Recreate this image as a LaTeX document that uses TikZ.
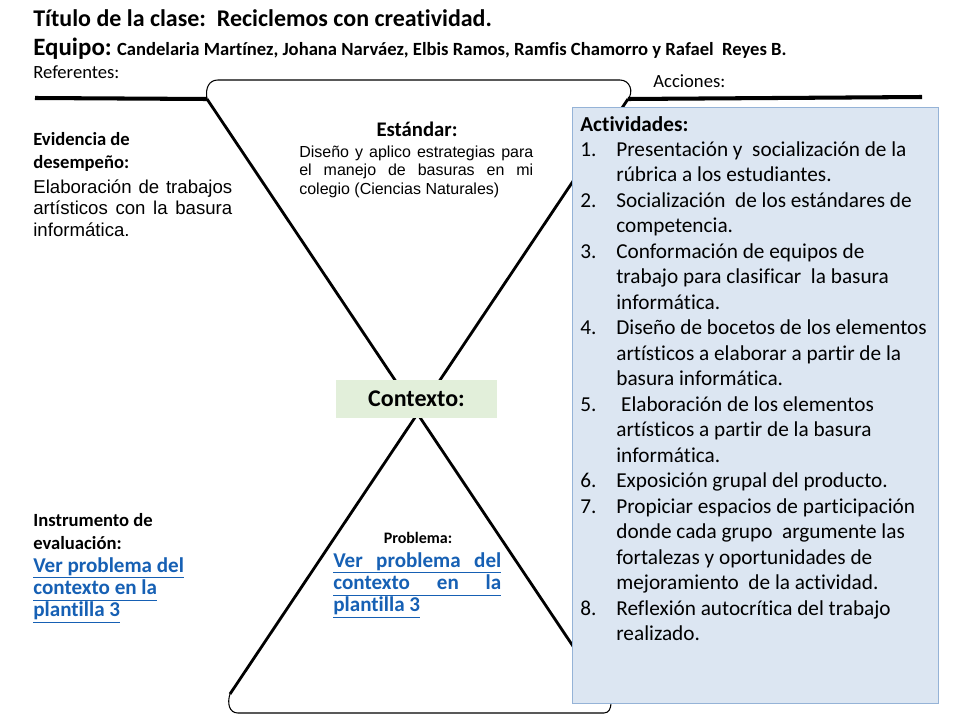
\documentclass[tikz,border=0pt]{standalone}
\usepackage{fontspec}
\setmainfont{Carlito}[Ligatures=NoCommon]
\newfontfamily\arialfont{Liberation Sans}
\usepackage{xcolor}
\usetikzlibrary{positioning}
\definecolor{ctxgreen}{RGB}{226,239,218}
\definecolor{actblue}{RGB}{220,230,242}
\definecolor{actborder}{RGB}{149,179,215}
\definecolor{linkblue}{RGB}{22,96,180}
\newcommand{\setfs}[2]{\fontsize{#1}{#2}\selectfont}
\newcommand{\jline}[2]{\makebox[#1][s]{#2}}
\newcommand{\lnk}[1]{\underline{#1\vphantom{p}}}
\tikzset{
  refline/.style={line width=2.3pt},
  vline/.style={line width=1.6pt},
  bracket/.style={line width=0.6pt},
  txt/.style={anchor=base west, inner sep=0pt, align=left},
  ctxbox/.style={
    rectangle,
    fill=ctxgreen,
    minimum width=3.22cm,
    minimum height=0.76cm,
    inner sep=0pt,
    font=\bfseries\setfs{13.65}{16}
  },
  actbox/.style={
    rectangle,
    draw=actborder,
    line width=0.6pt,
    fill=actblue,
    minimum width=7.32cm,
    minimum height=11.92cm,
    inner sep=0pt
  },
  linktxt/.style={txt, text=linkblue, font=\bfseries\setfs{12}{12.5}}
}

\begin{document}
\begin{tikzpicture}[x=0.02cm, y=-0.02cm]
\useasboundingbox (0,0) rectangle (960,720);
% ends of the V
\coordinate (tl) at (207,99);
\coordinate (tr) at (628,99);
\coordinate (bl) at (230,694);
\coordinate (br) at (611,703);
\coordinate (refend) at (35,98);
\coordinate (accend) at (922,97);
% lines of the V
\draw[refline] (refend) -- (tl);
\draw[refline] (tr) -- (accend);
\draw[vline] (tl) -- (br);
\draw[vline] (tr) -- (bl);
\draw[bracket] (tl) .. controls (205,88) and (209,80) .. (218,80) -- (620,80)
  .. controls (630,80) and (634,92) .. (tr);
\draw[bracket] (bl) .. controls (227,703) and (229,713) .. (238,713) -- (604,713)
  .. controls (609,713) and (611,708) .. (br);
\node[ctxbox] (ctx) at (416.5,399) {Contexto:};
\node[actbox, anchor=north west] (act) at (572,107) {};
% header
\node[txt, font=\bfseries\setfs{13.65}{16}] (title) at (33,27) {Título de la clase:\ \ Reciclemos con creatividad.};
\node[txt, font=\bfseries] (team) at (33,55) {{\setfs{14.2}{16}Equipo:} {\setfs{10.6}{13}Candelaria Martínez, Johana Narváez, Elbis Ramos, Ramfis Chamorro y Rafael\ \ Reyes B.}};
\node[txt, font=\setfs{10.6}{13}] (ref) at (33,78) {Referentes:};
\node[txt, font=\setfs{10.6}{13}] (acc) at (653,87) {Acciones:};
% left side
\node[txt, font=\bfseries\setfs{10.6}{13.1}] (evid) at (33,145) {\begin{tabular}[t]{@{}l@{}}Evidencia de\\ desempeño:\end{tabular}};
\node[txt, font=\arialfont\setfs{10.6}{12.5}] (elab) at (33,193) {\begin{tabular}[t]{@{}l@{}}
  \jline{3.98cm}{Elaboración de trabajos}\\
  \jline{3.98cm}{artísticos con la basura}\\
  informática.\end{tabular}};
\node[txt, font=\bfseries\setfs{10.6}{13.1}] (instr) at (33,526) {\begin{tabular}[t]{@{}l@{}}Instrumento de\\ evaluación:\end{tabular}};
\node[linktxt] (instrlnk) at (33,572) {\begin{tabular}[t]{@{}l@{}}
  \lnk{Ver problema del}\\
  \lnk{contexto en la}\\
  \lnk{plantilla 3}\end{tabular}};
% inside the V
\node[anchor=base, inner sep=0pt, font=\bfseries\setfs{11.8}{13}] (std) at (417,136) {Estándar:};
\node[txt, font=\arialfont\setfs{9.1}{10.8}] (stdtxt) at (299,157) {\begin{tabular}[t]{@{}l@{}}
  \jline{4.68cm}{Diseño y aplico estrategias para}\\
  \jline{4.68cm}{el manejo de basuras en mi}\\
  colegio (Ciencias Naturales)\end{tabular}};
\node[anchor=base, inner sep=0pt, font=\bfseries\setfs{9.1}{11}] (prob) at (418,543) {Problema:};
\node[linktxt] (problnk) at (333,567) {\begin{tabular}[t]{@{}l@{}}
  \lnk{\jline{3.36cm}{Ver problema del}}\\
  \lnk{\jline{3.36cm}{contexto en la}}\\
  \lnk{plantilla 3}\end{tabular}};
% activities
\node[txt, font=\setfs{12.1}{14.5}] (acttxt) at (580,131) {\begin{tabular}[t]{@{}p{0.72cm}@{}l@{}}
  \multicolumn{2}{@{}l@{}}{\textbf{Actividades:}}\\
  1. & Presentación y\ \ socialización de la\\
     & rúbrica a los estudiantes.\\
  2. & Socialización\ \ de los estándares de\\
     & competencia.\\
  3. & Conformación de equipos de\\
     & trabajo para clasificar\ \ la basura\\
     & informática.\\
  4. & Diseño de bocetos de los elementos\\
     & artísticos a elaborar a partir de la\\
     & basura informática.\\
  5. & \ Elaboración de los elementos\\
     & artísticos a partir de la basura\\
     & informática.\\
  6. & Exposición grupal del producto.\\
  7. & Propiciar espacios de participación\\
     & donde cada grupo\ \ argumente las\\
     & fortalezas y oportunidades de\\
     & mejoramiento\ \ de la actividad.\\
  8. & Reflexión autocrítica del trabajo\\
     & realizado.
\end{tabular}};
\end{tikzpicture}
\end{document}
